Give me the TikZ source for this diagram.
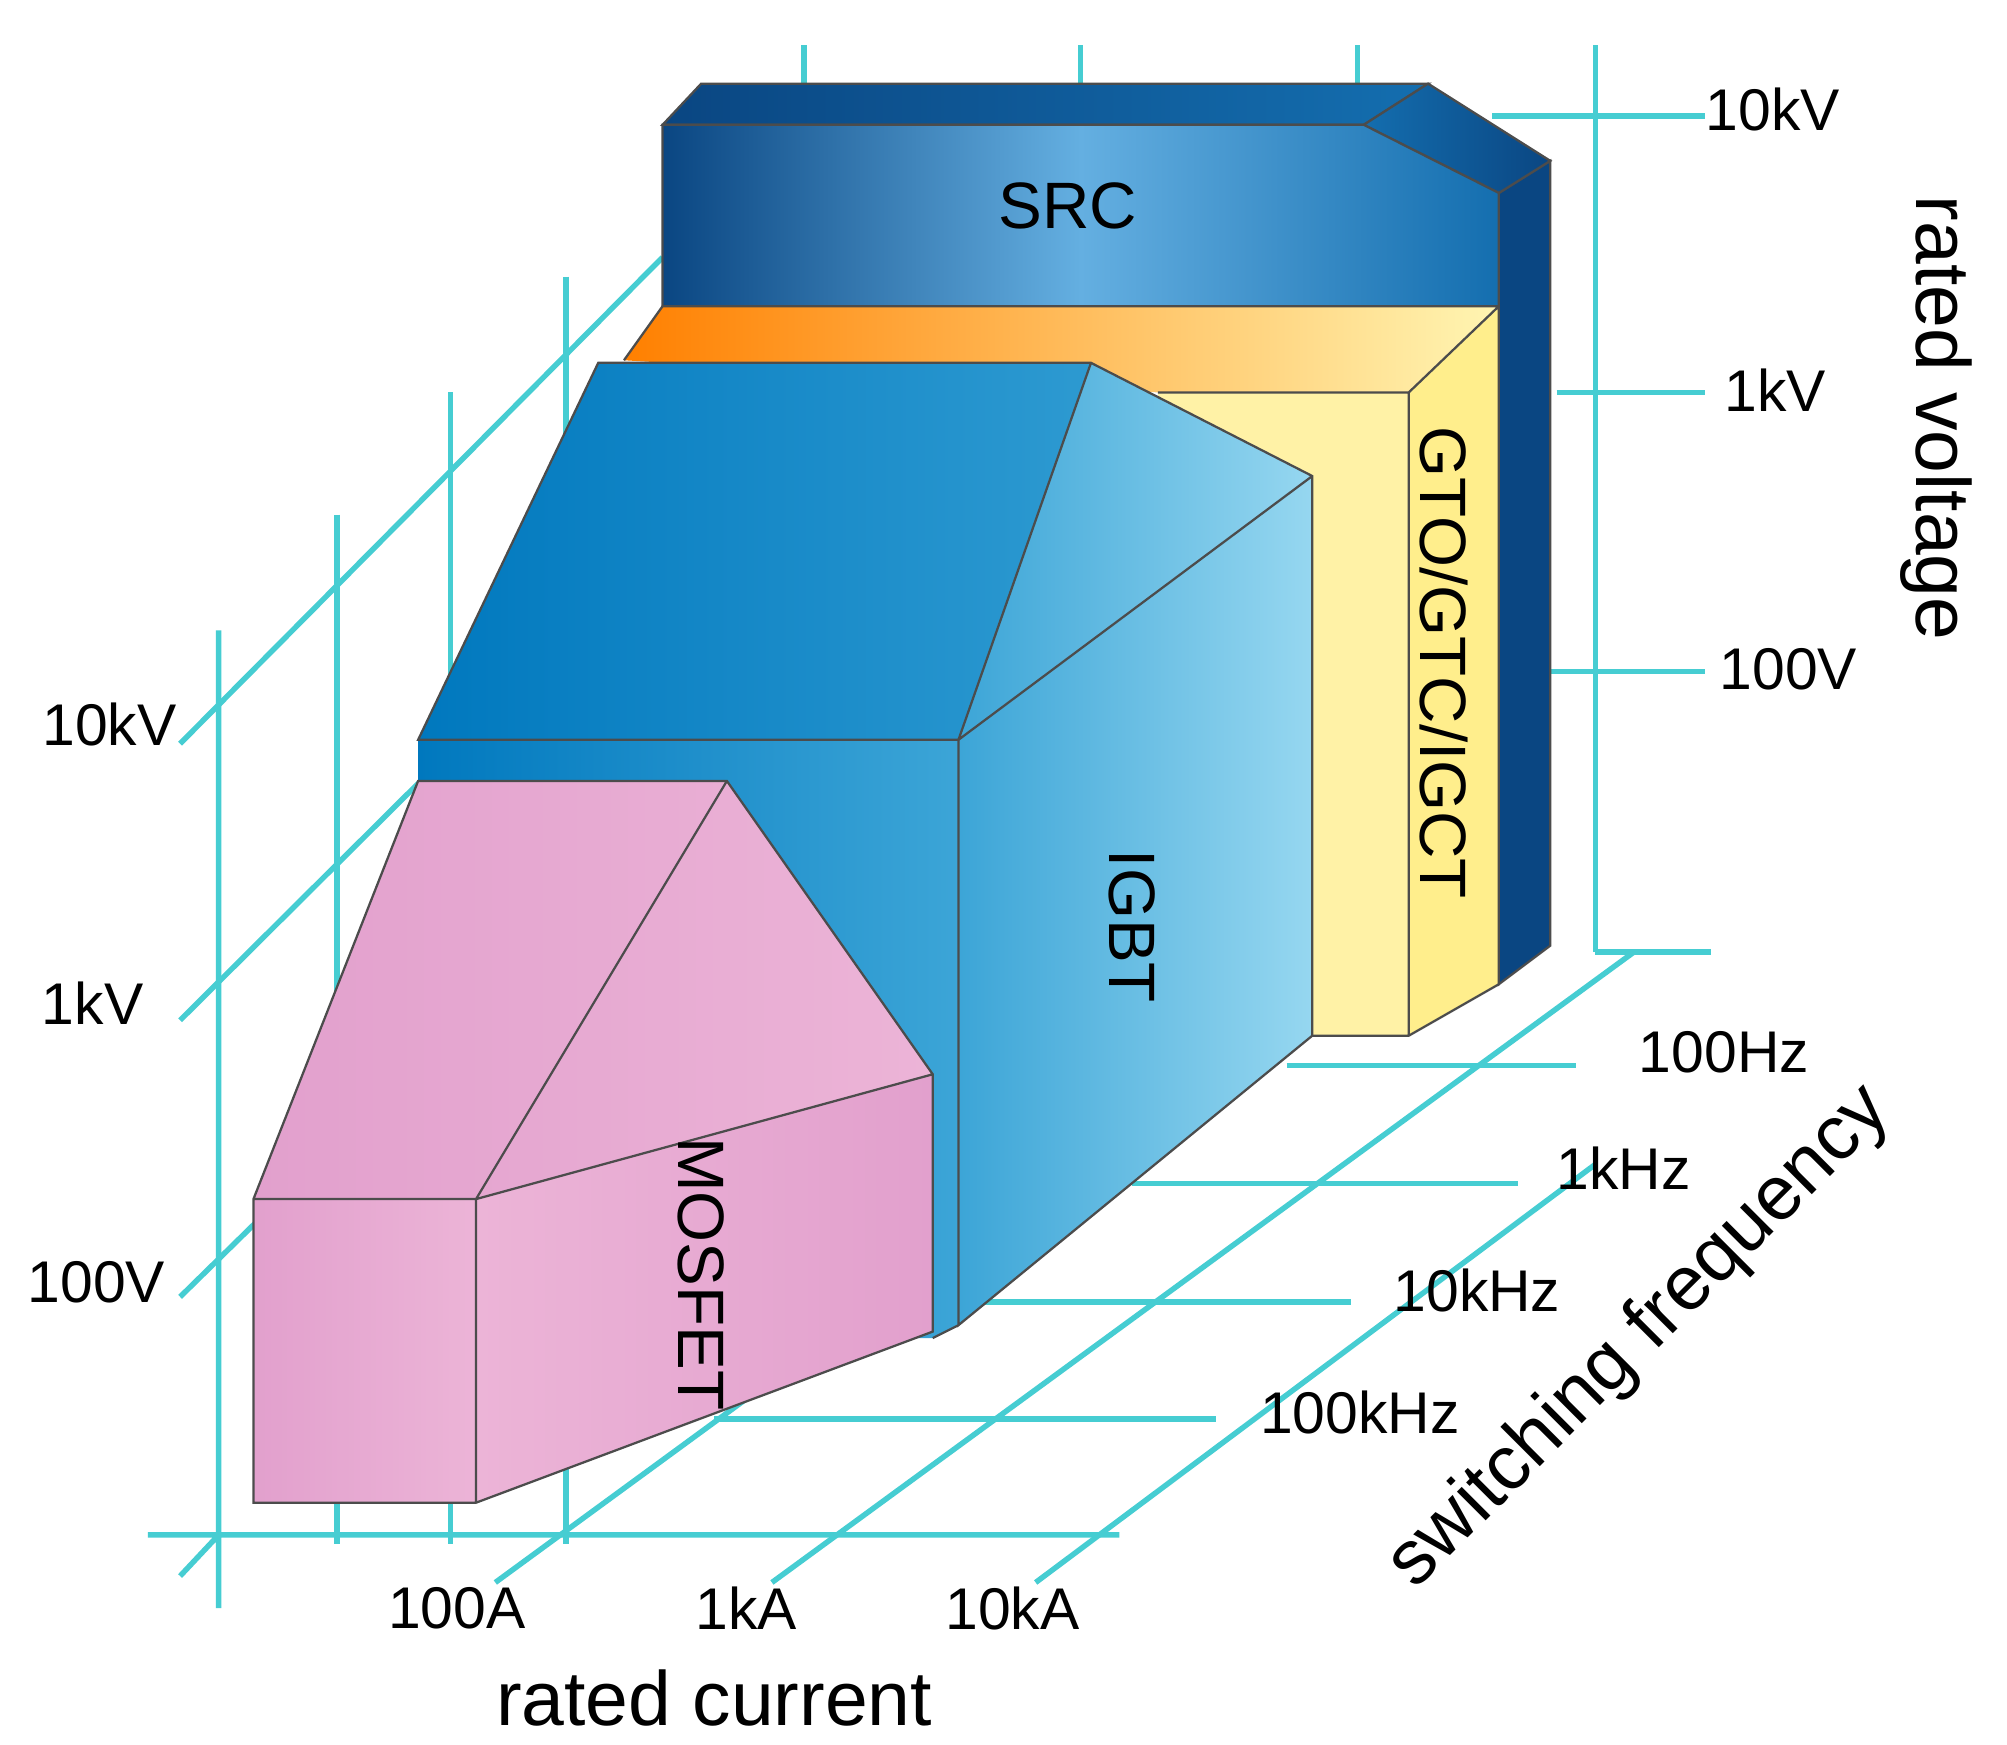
\documentclass[tikz,border=0pt]{standalone}
\usepackage{fontspec}
\setmainfont{Liberation Sans}
\definecolor{gridc}{RGB}{70,205,210}
\definecolor{pinkA}{RGB}{226,160,205}
\definecolor{pinkB}{RGB}{236,180,215}
\definecolor{sdark}{RGB}{10,70,130}
\definecolor{smid}{RGB}{20,110,175}
\definecolor{slight}{RGB}{100,175,225}
\definecolor{ibl}{RGB}{0,120,190}
\definecolor{ibm}{RGB}{60,165,215}
\definecolor{ibl2}{RGB}{150,215,240}
\begin{document}
\begin{tikzpicture}[x=0.01cm,y=-0.01cm,
 grid/.style={draw=gridc, line width=1.2pt},
 face/.style={draw=black!70, line width=0.5pt},
 lbl/.style={font=\fontsize{13}{13}\selectfont},
 big/.style={font=\fontsize{14.5}{14.5}\selectfont},
 axl/.style={font=\fontsize{17}{17}\selectfont}]
\useasboundingbox (0,0) rectangle (1560,1356);
\fill[white] (0,0) rectangle (1560,1356);
% back grid
\draw[grid] (625,35)--(625,97) (840,35)--(840,97) (1055,35)--(1055,97);
\draw[grid] (262,400)--(262,1200) (350,305)--(350,1200) (440,215)--(440,1200);
\draw[grid] (140,578)--(515,200) (140,793)--(515,420) (140,1008)--(515,640);
\draw[grid] (1240,35)--(1240,740);
\draw[grid] (1160,90)--(1325,90) (1210,305)--(1325,305) (1180,522)--(1325,522);
\draw[grid] (1240,740)--(1330,740);
\draw[grid] (1000,828)--(1225,828) (880,920)--(1180,920) (760,1012)--(1050,1012) (555,1103)--(945,1103);
\draw[grid] (115,1193)--(870,1193) (170,490)--(170,1250) (140,1225)--(170,1193);
\draw[grid] (385,1230)--(1000,780) (600,1230)--(1270,740) (805,1230)--(1240,905);
% SRC
\fill[sdark] (1165,150)--(1205,125)--(1205,735)--(1165,765)--cycle;
\draw[face] (1165,150)--(1205,125)--(1205,735)--(1165,765)--cycle;
\shade[left color=sdark,right color=smid] (515,97)--(545,65)--(1110,65)--(1060,97)--cycle;
\draw[face] (515,97)--(545,65)--(1110,65)--(1060,97)--cycle;
\shade[left color=smid,right color=sdark] (1060,97)--(1110,65)--(1205,125)--(1165,150)--cycle;
\draw[face] (1060,97)--(1110,65)--(1205,125)--(1165,150)--cycle;
\shade[left color=sdark,right color=smid,middle color=slight] (515,97)--(1060,97)--(1165,150)--(1165,240)--(515,240)--cycle;
\draw[face] (515,97)--(1060,97)--(1165,150)--(1165,240)--(515,240)--cycle;
\node[big] (src) at (830,160) {SRC};
% GTO
\shade[left color=orange,right color=orange!25!yellow!30] (485,280)--(515,238)--(1165,238)--(1095,305)--(900,305)--cycle;
\fill[orange!30!yellow!35] (900,305)--(1095,305)--(1095,805)--(900,805)--cycle;
\fill[orange!30!yellow!45] (1095,305)--(1165,238)--(1165,765)--(1095,805)--cycle;
\draw[face] (485,280)--(515,238)--(1165,238)--(1165,765)--(1095,805)--(1020,805) (1095,305)--(1095,805) (1095,305)--(1165,238) (900,305)--(1095,305);
\node[big,rotate=-90] (gto) at (1122,515) {GTO/GTC/IGCT};
% IGBT
\shade[left color=ibl,right color=ibm] (465,282)--(848,282)--(1020,370)--(745,575)--(325,575)--cycle;
\shade[left color=ibm,right color=ibl2] (848,282)--(1020,370)--(745,575)--cycle;
\shade[left color=ibl,right color=ibm] (325,575)--(745,575)--(745,1030)--(725,1040)--(325,1040)--cycle;
\shade[left color=ibm,right color=ibl2] (745,575)--(1020,370)--(1020,805)--(745,1030)--cycle;
\draw[face] (465,282)--(848,282)--(1020,370)--(1020,805)--(745,1030)--(745,575)--(325,575)--cycle (848,282)--(745,575) (1020,370)--(745,575) (745,1030)--(725,1040);
\node[big,rotate=-90] (igbt) at (880,720) {IGBT};
% MOSFET
\shade[left color=pinkA,right color=pinkB] (325,607)--(565,607)--(725,835)--(370,932)--(197,932)--cycle;
\shade[left color=pinkA,right color=pinkB] (197,932)--(370,932)--(370,1168)--(197,1168)--cycle;
\shade[left color=pinkB,right color=pinkA] (370,932)--(725,835)--(725,1035)--(370,1168)--cycle;
\draw[face] (325,607)--(565,607)--(725,835)--(725,1035)--(370,1168)--(197,1168)--(197,932)--cycle (565,607)--(370,932) (197,932)--(370,932)--(725,835) (370,932)--(370,1168);
\node[big,rotate=-90] (mos) at (545,990) {MOSFET};
% labels
\node[lbl] (l1) at (85,563) {10kV};
\node[lbl] (l2) at (72,780) {1kV};
\node[lbl] (l3) at (75,997) {100V};
\node[lbl] (r1) at (1378,85) {10kV};
\node[lbl] (r2) at (1380,303) {1kV};
\node[lbl] (r3) at (1390,520) {100V};
\node[lbl] (f1) at (1340,818) {100Hz};
\node[lbl] (f2) at (1262,908) {1kHz};
\node[lbl] (f3) at (1148,1003) {10kHz};
\node[lbl] (f4) at (1057,1098) {100kHz};
\node[lbl] (c1) at (355,1250) {100A};
\node[lbl] (c2) at (580,1250) {1kA};
\node[lbl] (c3) at (787,1250) {10kA};
\node[axl] (rc) at (555,1320) {rated current};
\node[axl,rotate=-90] (rv) at (1505,325) {rated voltage};
\node[axl,rotate=45] (sf) at (1275,1040) {switching frequency};
\end{tikzpicture}
\end{document}
